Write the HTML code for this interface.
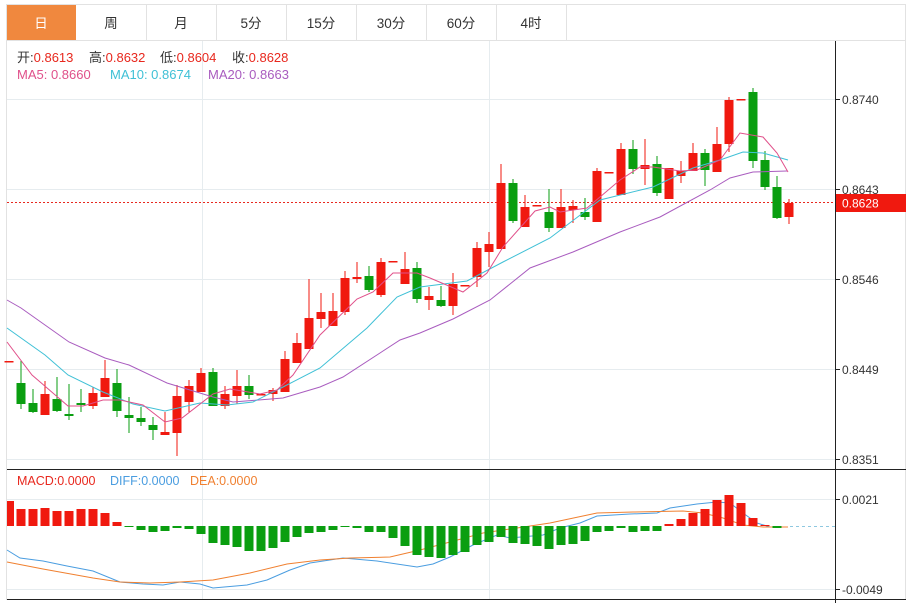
<!DOCTYPE html>
<html><head><meta charset="utf-8"><style>
html,body{margin:0;padding:0;background:#fff;width:915px;height:603px;overflow:hidden}
svg text{font-family:"Liberation Sans","Noto Sans CJK SC",sans-serif}
</style></head><body>
<svg width="915" height="603" viewBox="0 0 915 603" xmlns="http://www.w3.org/2000/svg">
<!-- tabs -->
<rect x="6.5" y="4.5" width="899" height="36" fill="#fff" stroke="#e2e2e2"/>
<rect x="7" y="5" width="69" height="35" fill="#f0883e"/>
<g stroke="#e2e2e2"><line x1="146.5" y1="5" x2="146.5" y2="40"/><line x1="216.5" y1="5" x2="216.5" y2="40"/><line x1="286.5" y1="5" x2="286.5" y2="40"/><line x1="356.5" y1="5" x2="356.5" y2="40"/><line x1="426.5" y1="5" x2="426.5" y2="40"/><line x1="496.5" y1="5" x2="496.5" y2="40"/><line x1="566.5" y1="5" x2="566.5" y2="40"/></g>
<g font-size="13.5" text-anchor="middle" fill="#333"><text x="41" y="28" fill="#fff">日</text><text x="111" y="28">周</text><text x="181" y="28">月</text><text x="251" y="28">5分</text><text x="321" y="28">15分</text><text x="391" y="28">30分</text><text x="461" y="28">60分</text><text x="531" y="28">4时</text></g>
<!-- frame -->
<line x1="6.5" y1="40" x2="6.5" y2="600" stroke="#e2e2e2"/>
<line x1="905.5" y1="40" x2="905.5" y2="600" stroke="#e2e2e2"/>
<g stroke="#e6ecef"><line x1="7" y1="99.5" x2="835" y2="99.5"/><line x1="7" y1="189.5" x2="835" y2="189.5"/><line x1="7" y1="279.5" x2="835" y2="279.5"/><line x1="7" y1="369.5" x2="835" y2="369.5"/><line x1="7" y1="459.5" x2="835" y2="459.5"/><line x1="7" y1="499.5" x2="835" y2="499.5"/><line x1="7" y1="589.5" x2="835" y2="589.5"/><line x1="202.5" y1="41" x2="202.5" y2="600"/><line x1="489.5" y1="41" x2="489.5" y2="600"/></g>
<line x1="835.5" y1="41" x2="835.5" y2="603" stroke="#222"/>
<line x1="7" y1="469.5" x2="906" y2="469.5" stroke="#222"/>
<line x1="7" y1="599.5" x2="906" y2="599.5" stroke="#222"/>
<g stroke="#222"><line x1="835" y1="99.5" x2="840" y2="99.5"/><line x1="835" y1="189.5" x2="840" y2="189.5"/><line x1="835" y1="279.5" x2="840" y2="279.5"/><line x1="835" y1="369.5" x2="840" y2="369.5"/><line x1="835" y1="459.5" x2="840" y2="459.5"/><line x1="835" y1="499.5" x2="840" y2="499.5"/><line x1="835" y1="589.5" x2="840" y2="589.5"/></g>
<g font-size="12" fill="#333"><text x="842" y="104">0.8740</text><text x="842" y="194">0.8643</text><text x="842" y="284">0.8546</text><text x="842" y="374">0.8449</text><text x="842" y="464">0.8351</text><text x="842" y="504">0.0021</text><text x="842" y="594">-0.0049</text></g>
<!-- current price -->
<line x1="7" y1="202.5" x2="835" y2="202.5" stroke="#e8281e" stroke-dasharray="2,2"/>
<rect x="836" y="194" width="70" height="18" fill="#f0190f"/>
<text x="842" y="207.5" font-size="12" fill="#fff">0.8628</text>
<!-- legends -->
<g font-size="13">
<text x="17" y="62" fill="#333">开:<tspan fill="#e8281e">0.8613</tspan></text>
<text x="89" y="62" fill="#333">高:<tspan fill="#e8281e">0.8632</tspan></text>
<text x="160" y="62" fill="#333">低:<tspan fill="#e8281e">0.8604</tspan></text>
<text x="232" y="62" fill="#333">收:<tspan fill="#e8281e">0.8628</tspan></text>
<text x="17" y="79" fill="#e0508a">MA5: 0.8660</text>
<text x="110" y="79" fill="#3fc0d6">MA10: 0.8674</text>
<text x="208" y="79" fill="#a95cbf">MA20: 0.8663</text>
<text x="17" y="485" fill="#e8281e" font-size="12.5">MACD:0.0000</text>
<text x="110" y="485" fill="#4a9de0" font-size="12.5">DIFF:0.0000</text>
<text x="190" y="485" fill="#f08030" font-size="12.5">DEA:0.0000</text></g>
<!-- candles -->
<g id="c"></g>
<g stroke-width="1" fill="none">
<polyline stroke="#a95cbf" points="7,300 21,308 45,325 69,342 105,358 129,365 167,383 213,397 233,402 283,398 320,387 343,377 400,340 420,333 453,319 490,300 530,268 573,252 620,232 660,217 710,190 730,178 753,172 787,171"/>
<polyline stroke="#3fc0d6" points="7,328 45,355 68,375 103,392 133,404 165,411 200,403 227,405 253,402 283,387 320,368 367,328 397,297 420,287 467,281 503,262 550,238 600,200 653,187 693,168 720,160 743,152 763,153 788,160"/>
<polyline stroke="#e0508a" points="7,342 32,375 68,406 83,406 103,400 120,400 143,405 165,422 182,418 213,394 230,389 260,394 277,390 293,375 320,335 357,299 373,292 393,273 417,273 430,278 463,292 487,273 503,247 535,211 550,207 560,212 587,208 620,180 640,167 653,167 680,171 697,170 720,160 740,133 763,137 777,153 788,172"/>
<polyline stroke="#4a9de0" points="7,550 20,558 43,561 67,566 93,571 120,582 143,584 163,585 180,582 200,584 213,588 247,585 267,580 290,570 310,563 343,558 377,561 417,567 433,564 450,557 473,545 497,535 510,538 543,535 560,528 580,523 597,516 630,514 657,513 670,508 697,504 717,502 730,503 743,513 757,523 770,527 788,527"/>
<polyline stroke="#f08030" points="7,562 43,569 93,578 120,582 150,583 180,582 213,580 250,573 287,564 320,560 350,558 390,557 420,550 450,542 483,533 517,528 550,523 597,513 633,512 683,511 703,513 723,518 743,525 763,527 788,527"/>
</g>
<line x1="790" y1="526.5" x2="835" y2="526.5" stroke="#8ec8e0" stroke-dasharray="3,3"/>
<g id="m"></g>
</svg>
<script>
var R="#f0190f",G="#0a9e10";
var C=[[9,'r',361,361,361,361],
[21,'g',383,404,361,409],[33,'g',403,412,389,413],[45,'r',394,415,381,415],[57,'g',399,411,377,412],[69,'g',414,416,384,420],[81,'g',403,405,389,412],[93,'r',393,406,387,409],[105,'r',378,397,360,397],[117,'g',383,411,369,417],[129,'g',415,418,397,433],[141,'g',418,422,407,426],[153,'g',425,430,417,440],[165,'r',432,435,412,435],[177,'r',396,433,385,456],[189,'r',386,402,380,412],[201,'r',373,392,368,392],[213,'g',372,406,368,406],[225,'r',394,406,386,409],[237,'r',386,396,370,404],[249,'g',386,395,375,399],[261,'r',394,395,394,395],[273,'r',390,394,388,401],[285,'r',359,392,351,392],[297,'r',343,363,333,363],[309,'r',318,349,279,349],[321,'r',312,319,293,328],[333,'r',311,326,293,326],[345,'r',278,312,271,315],[357,'r',277,279,262,283],[369,'g',276,290,266,292],[381,'r',262,295,258,297],[393,'r',261,262,261,262],[405,'r',269,284,252,284],[417,'g',268,299,262,303],[429,'r',296,300,287,310],[441,'g',300,306,286,307],[453,'r',284,306,273,315],[465,'r',285,286,285,286],[477,'r',248,277,242,287],[489,'r',244,252,232,267],[501,'r',183,249,164,249],[513,'g',183,221,179,223],[525,'r',207,227,195,227],[537,'r',205,206,205,206],[549,'g',212,228,189,232],[561,'r',207,228,189,228],[573,'r',206,210,200,223],[585,'g',212,217,198,220],[597,'r',171,222,168,222],[609,'r',172,173,172,173],[621,'r',149,195,143,195],[633,'g',149,169,140,174],[645,'r',165,169,139,185],[657,'g',164,193,156,196],[669,'r',168,199,168,199],[681,'r',171,176,161,183],[693,'r',153,171,143,171],[705,'g',153,170,149,186],[717,'r',144,172,127,172],[729,'r',100,144,97,152],[741,'r',99,100,99,100],[753,'g',92,161,88,168],[765,'g',160,187,151,190],[777,'g',187,218,176,219],[789,'r',203,217,199,224]];
var s='';C.forEach(function(c){var col=c[1]=='r'?R:G;s+='<line x1="'+c[0]+'" x2="'+c[0]+'" y1="'+c[4]+'" y2="'+c[5]+'" stroke="'+col+'"/>';var h=Math.max(1.5,c[3]-c[2]);s+='<rect x="'+(c[0]-4.5)+'" y="'+c[2]+'" width="9" height="'+h+'" fill="'+col+'"/>';});
document.getElementById('c').innerHTML=s;
var M=[[10,501],[21,509],[33,509],[45,508],[57,511],[69,511],[81,509],[93,509],[105,513],[117,522],[129,526],[141,530],[153,532],[165,531],[177,528],[189,529],[201,534],[213,543],[225,545],[237,547],[249,551],[261,551],[273,548],[285,542],[297,537],[309,533],[321,532],[333,530],[345,526],[357,528],[369,532],[381,532],[393,538],[405,546],[417,555],[429,557],[441,558],[453,555],[465,552],[477,545],[489,542],[501,537],[513,543],[525,544],[537,546],[549,549],[561,545],[573,544],[585,541],[597,532],[609,531],[621,528],[633,532],[645,531],[657,531],[669,524],[681,519],[693,513],[705,509],[717,500],[729,495],[741,503],[753,518],[765,525],[777,528]];
var z=526,t='';M.forEach(function(m){var x=m[0],y=m[1];var col=y<z?R:G;var top=Math.min(y,z),h=Math.max(1,Math.abs(y-z));var w=9,l=x-4.5;if(x==10){l=7;w=7;}t+='<rect x="'+l+'" y="'+top+'" width="'+w+'" height="'+h+'" fill="'+col+'"/>';});
document.getElementById('m').innerHTML=t;
</script>
</body></html>
